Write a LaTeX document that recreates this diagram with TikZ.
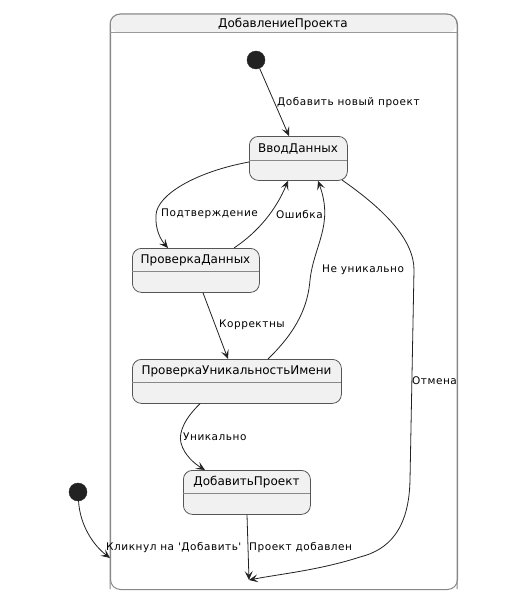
\documentclass[tikz,border=0pt]{standalone}
\usepackage{fontspec}
\setmainfont{DejaVu Sans}
\newfontfamily\lblfont{DejaVu Sans}[LetterSpace=5]
\usetikzlibrary{arrows.meta}
\definecolor{stfill}{HTML}{F1F1F1}
\definecolor{stline}{HTML}{555555}
\definecolor{edge}{HTML}{222222}
\tikzset{
  statebox/.style={draw=stline, fill=stfill, rounded corners=9pt, line width=0.8pt, inner sep=0pt},
  sname/.style={font=\fontsize{12}{14}\selectfont, text=black, inner sep=0pt},
  elabel/.style={font=\lblfont\fontsize{10.5}{12}\selectfont, text=black, inner sep=0pt, anchor=west},
  trans/.style={draw=edge, line width=0.8pt, -{Stealth[length=9pt,width=8pt,inset=4pt]}},
  initdot/.style={circle, fill=edge, draw=edge, minimum size=18pt, inner sep=0pt},
}
\begin{document}
\begin{tikzpicture}[x=1pt,y=-1pt]
\useasboundingbox (0,0) rectangle (509,610);
% composite state
\node[draw=stline!70, line width=1pt, rounded corners=10pt, minimum width=347pt, minimum height=575pt, inner sep=0pt, anchor=north west] (comp) at (110,14) {};
\fill[stfill, rounded corners=10pt] (110.5,33) -- (110.5,14.5) -- (456.5,14.5) -- (456.5,33) -- cycle;
\draw[stline!70, line width=1pt, rounded corners=10pt] (110,589) -- (110,14) -- (457,14) -- (457,589);
\draw[stline!60, line width=1pt] (110,33) -- (457,33);
\node[sname] (ttl) at (283,24) {ДобавлениеПроекта};

% states
\node[statebox, minimum width=98pt, minimum height=44pt, anchor=north west] (vd) at (249,136) {};
\draw[stline!70, line width=0.8pt] (249,160) -- (347,160);
\node[sname] (vdt) at (298,149) {ВводДанных};

\node[statebox, minimum width=127pt, minimum height=44pt, anchor=north west] (pd) at (132,248) {};
\draw[stline!70, line width=0.8pt] (132,271) -- (259,271);
\node[sname] (pdt) at (195.5,260) {ПроверкаДанных};

\node[statebox, minimum width=209pt, minimum height=44pt, anchor=north west] (pu) at (132,359) {};
\draw[stline!70, line width=0.8pt] (132,382) -- (341,382);
\node[sname] (put) at (236.5,371) {ПроверкаУникальностьИмени};

\node[statebox, minimum width=127pt, minimum height=44pt, anchor=north west] (dp) at (183,470) {};
\draw[stline!70, line width=0.8pt] (183,493) -- (310,493);
\node[sname] (dpt) at (246.5,482) {ДобавитьПроект};

\node[initdot] (init) at (256,60) {};
\node[initdot] (oinit) at (78,492) {};
\coordinate (fin) at (249,580);
\coordinate (centry) at (110,558);

% transitions
\draw[trans] (init) -- (vd.north -| 289,0);
\node[elabel] (l1) at (277,103) {Добавить новый проект};

\draw[trans] (vd.west |- 0,162) .. controls (195,172) and (157,195) .. (156,215) .. controls (155,230) and (161,240) .. (pd.north -| 168,0);
\node[elabel] (l2) at (161,214) {Подтверждение};

\draw[trans] (pd.north -| 234,0) .. controls (258,232) and (276,210) .. (vd.south -| 288,0);
\node[elabel] (l3) at (276,214) {Ошибка};

\draw[trans] (pu.north -| 268,0) .. controls (298,330) and (308,305) .. (310,280) .. controls (314,245) and (334,225) .. (vd.south -| 318,0);
\node[elabel] (l4) at (322,270) {Не уникально};

\draw[trans] (342,180) .. controls (385,210) and (414,240) .. (414,270) -- (410,480) .. controls (409,530) and (388,550) .. (360,557) .. controls (320,570) and (280,574) .. (fin);
\node[elabel] (l5) at (412,381) {Отмена};

\draw[trans] (pd.south -| 203,0) -- (pu.north -| 228,0);
\node[elabel] (l6) at (219,325) {Корректны};

\draw[trans] (pu.south -| 200,0) .. controls (186,417) and (178,432) .. (181,443) .. controls (184,455) and (195,464) .. (dp.north -| 205,0);
\node[elabel] (l7) at (183,437) {Уникально};

\draw[trans] (dp.south -| 247,0) -- (fin);
\node[elabel] (l8) at (249,548) {Проект добавлен};

\draw[trans] (oinit) .. controls (80,525) and (93,545) .. (centry);
\node[elabel] (l9) at (106,548) {Кликнул на 'Добавить'};
\end{tikzpicture}
\end{document}
